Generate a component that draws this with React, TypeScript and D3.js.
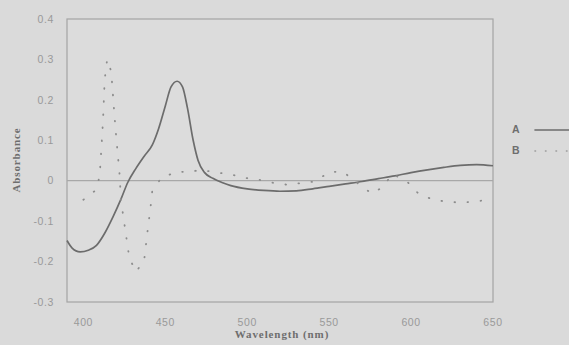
import React, { useEffect, useRef } from "react";
import * as d3 from "d3";

// Spectrum A (solid)
const waveA = [390, 393, 398, 403, 408, 413, 418, 423, 427, 432, 437, 442, 446, 450, 453.5, 457.2, 460.5, 463.5, 467, 470, 474, 479, 485, 490, 500, 510, 520, 530, 540, 550, 560, 570, 580, 590, 600, 610, 620, 630, 640, 650];
const absA = [-0.148, -0.166, -0.176, -0.172, -0.160, -0.130, -0.090, -0.045, -0.005, 0.030, 0.060, 0.088, 0.130, 0.185, 0.232, 0.246, 0.232, 0.180, 0.100, 0.050, 0.020, 0.006, -0.005, -0.012, -0.020, -0.024, -0.026, -0.025, -0.020, -0.014, -0.008, -0.002, 0.005, 0.012, 0.020, 0.027, 0.033, 0.038, 0.040, 0.037];

// Spectrum B (dotted)
const waveB = [400, 408, 410, 412, 413, 414.5, 417, 419, 420, 422, 423, 425.5, 428, 432, 437, 439, 441, 442, 447.5, 457, 466, 471, 482, 490.5, 498.5, 507.5, 515.5, 524.5, 541, 550.5, 558.5, 567, 576, 583, 588.5, 597.5, 604.5, 613.5, 622, 630, 638, 647.5];
const absB = [-0.047, -0.022, 0.015, 0.15, 0.25, 0.3, 0.27, 0.16, 0.11, 0.02, -0.05, -0.12, -0.19, -0.225, -0.2, -0.13, -0.065, -0.027, 0.007, 0.022, 0.022, 0.027, 0.02, 0.015, 0.007, 0.002, -0.005, -0.01, -0.002, 0.022, 0.022, -0.005, -0.032, -0.015, 0.017, -0.002, -0.032, -0.047, -0.052, -0.054, -0.052, -0.047];

const xTicks = [400, 450, 500, 550, 600, 650];
const yTicks = [-0.3, -0.2, -0.1, 0, 0.1, 0.2, 0.3, 0.4];
const seriesNames = ["A", "B"];

const App = () => {
  const svgRef = useRef<SVGSVGElement | null>(null);

  useEffect(() => {
    const root = d3.select(svgRef.current);
    root.selectAll("*").remove();

    const W = 569;
    const H = 345;
    const plot = { left: 67, right: 493, top: 19, bottom: 302 };

    root.attr("width", W).attr("height", H);

    // background
    root.append("rect").attr("width", W).attr("height", H).attr("fill", "#dadada");

    const x = d3.scaleLinear().domain([390, 650]).range([plot.left, plot.right]);
    const y = d3.scaleLinear().domain([-0.3, 0.4]).range([plot.bottom, plot.top]);

    // plot box
    root
      .append("rect")
      .attr("x", plot.left)
      .attr("y", plot.top)
      .attr("width", plot.right - plot.left)
      .attr("height", plot.bottom - plot.top)
      .attr("fill", "#dcdcdc")
      .attr("stroke", "#a4a4a4")
      .attr("stroke-width", 1.2);

    // zero line
    root
      .append("line")
      .attr("x1", plot.left)
      .attr("x2", plot.right)
      .attr("y1", y(0))
      .attr("y2", y(0))
      .attr("stroke", "#a8a8a8")
      .attr("stroke-width", 1.2);

    const tickFont = (sel: any) =>
      sel
        .style("font-family", "Liberation Sans, Arial, sans-serif")
        .style("font-size", "10.5px")
        .style("letter-spacing", "0.6px")
        .style("fill", "#999999");

    // y tick labels (plain hyphen for negatives)
    root
      .append("g")
      .selectAll("text")
      .data(yTicks)
      .join("text")
      .attr("x", 54)
      .attr("y", (d) => y(d))
      .attr("dy", "0.35em")
      .attr("text-anchor", "end")
      .call(tickFont)
      .text((d) => (d === 0 ? "0" : d.toFixed(1)));

    // x tick labels
    root
      .append("g")
      .selectAll("text")
      .data(xTicks)
      .join("text")
      .attr("x", (d) => x(d))
      .attr("y", 326)
      .attr("text-anchor", "middle")
      .call(tickFont)
      .text((d) => d);

    // axis titles
    root
      .append("text")
      .attr("x", 282)
      .attr("y", 338)
      .attr("text-anchor", "middle")
      .style("font-family", "Liberation Serif, Times New Roman, serif")
      .style("font-weight", "bold")
      .style("font-size", "11px")
      .style("letter-spacing", "0.9px")
      .style("fill", "#6e6e6e")
      .text("Wavelength (nm)");

    root
      .append("text")
      .attr("transform", `translate(20,160) rotate(-90)`)
      .attr("text-anchor", "middle")
      .style("font-family", "Liberation Serif, Times New Roman, serif")
      .style("font-weight", "bold")
      .style("font-size", "11px")
      .style("letter-spacing", "0.9px")
      .style("fill", "#6e6e6e")
      .text("Absorbance");

    const line = d3
      .line<[number, number]>()
      .x((d) => x(d[0]))
      .y((d) => y(d[1]))
      .curve(d3.curveMonotoneX);

    const dataA = waveA.map((w, i) => [w, absA[i]] as [number, number]);
    const dataB = waveB.map((w, i) => [w, absB[i]] as [number, number]);

    root
      .append("path")
      .datum(dataA)
      .attr("d", line)
      .attr("fill", "none")
      .attr("stroke", "#6c6c6c")
      .attr("stroke-width", 1.7);

    root
      .append("path")
      .datum(dataB)
      .attr("d", line.curve(d3.curveLinear))
      .attr("fill", "none")
      .attr("stroke", "#8c8c8c")
      .attr("stroke-width", 1.8)
      .attr("stroke-linecap", "round")
      .attr("stroke-dasharray", "0.6 12.5");

    // legend
    const legend = root.append("g").attr("transform", "translate(512,129)");
    seriesNames.forEach((name, i) => {
      const row = legend.append("g").attr("transform", `translate(0, ${i * 21})`);
      row
        .append("text")
        .attr("x", 0)
        .attr("y", 0)
        .attr("dy", "0.35em")
        .style("font-family", "Liberation Sans, Arial, sans-serif")
        .style("font-weight", "bold")
        .style("font-size", "10.5px")
        .style("fill", "#6e6e6e")
        .text(name);
      row
        .append("line")
        .attr("x1", 23)
        .attr("x2", 58)
        .attr("y1", 1)
        .attr("y2", 1)
        .attr("stroke", i === 0 ? "#6c6c6c" : "#9a9a9a")
        .attr("stroke-width", 1.6)
        .attr("stroke-linecap", "round")
        .attr("stroke-dasharray", i === 0 ? null : "0.5 10");
    });
  }, []);

  return (
    <div>
      <svg ref={svgRef} style={{ position: "absolute", left: 0, top: 0 }}></svg>
    </div>
  );
};

export default App;
